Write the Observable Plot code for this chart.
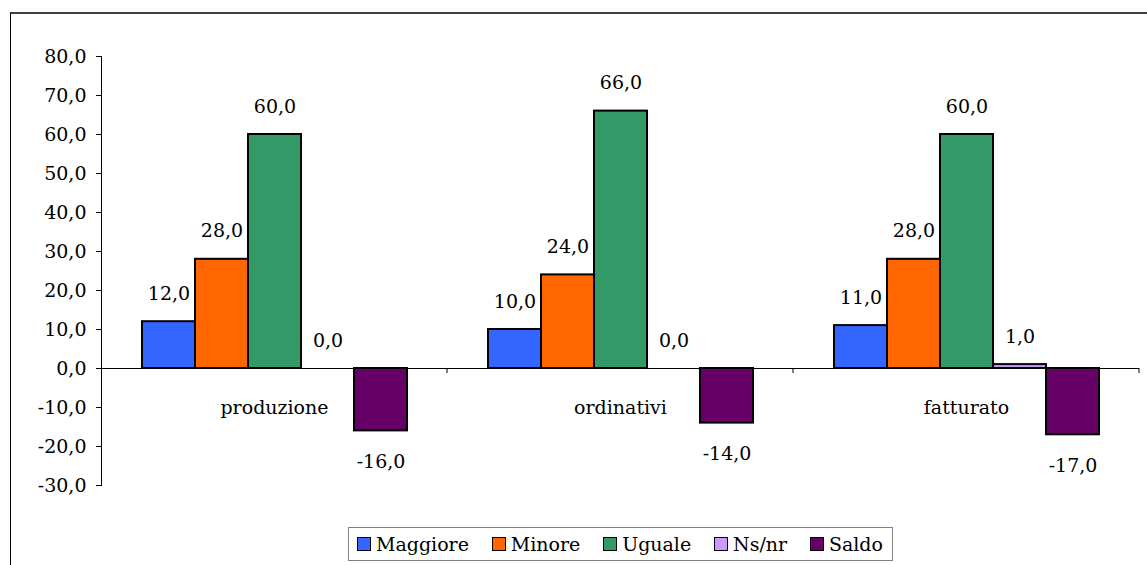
<!DOCTYPE html>
<html>
<head>
<meta charset="utf-8">
<script src="https://cdn.jsdelivr.net/npm/d3@7"></script>
<script src="https://cdn.jsdelivr.net/npm/@observablehq/plot@0.6"></script>
<style>
  html, body { margin: 0; padding: 0; background: #fff; }
  body { width: 1147px; height: 565px; position: relative; overflow: hidden; font-family: "DejaVu Serif", serif; }
  #frame { position: absolute; left: 10px; top: 12px; width: 1200px; height: 600px; border-top: 2px solid #404040; border-left: 1px solid #000; box-sizing: border-box; }
  #chart { position: absolute; left: 0; top: 0; }
  #legend { position: absolute; left: 348px; top: 527px; width: 545px; height: 34px; border: 1px solid #808080; box-sizing: border-box; display: flex; align-items: center; justify-content: space-between; padding: 0 9px 0 8px; font-family: "DejaVu Serif", serif; font-size: 19px; color: #000; background: #fff; }
  .item { display: flex; align-items: center; gap: 5px; }
  .sw { width: 14px; height: 14px; border: 1.5px solid #000; box-sizing: border-box; }
</style>
</head>
<body>
<div id="frame"></div>
<div id="chart"></div>
<div id="legend"></div>
<script>
const categories = ["produzione", "ordinativi", "fatturato"];
const series = ["Maggiore", "Minore", "Uguale", "Ns/nr", "Saldo"];
const colors = ["#3366FF", "#FF6600", "#339966", "#CC99FF", "#660066"];
const maggiore = [12, 10, 11];
const minore = [28, 24, 28];
const uguale = [60, 66, 60];
const nsnr = [0, 0, 1];
const saldo = [-16, -14, -17];
const yTicks = [-30, -20, -10, 0, 10, 20, 30, 40, 50, 60, 70, 80];

const valuesBySeries = [maggiore, minore, uguale, nsnr, saldo];
const rows = [];
categories.forEach((c, i) => {
  series.forEach((s, j) => rows.push({cat: c, series: s, value: valuesBySeries[j][i]}));
});
const fmt = v => d3.format(".1f")(v).replace("\u2212", "-").replace(".", ",");

const chart = Plot.plot({
  width: 1147,
  height: 520,
  marginLeft: 100,
  marginRight: 8,
  marginTop: 56,
  marginBottom: 35,
  style: {fontFamily: "DejaVu Serif, serif", fontSize: "19px", color: "#000", background: "transparent"},
  fx: {domain: categories, paddingInner: 0, paddingOuter: 0, axis: null},
  x: {domain: series, paddingInner: 0, paddingOuter: 0.75, axis: null},
  y: {domain: [-30, 80], ticks: yTicks, tickFormat: fmt, tickSize: 5, tickPadding: 10, line: true, label: null},
  color: {domain: series, range: colors},
  marks: [
    Plot.barY(rows, {fx: "cat", x: "series", y: "value", fill: "series", stroke: "#000", strokeWidth: 2, inset: 0}),
    Plot.ruleY([0], {stroke: "#000", strokeWidth: 1}),
    Plot.text(rows.filter(d => d.value >= 0), {fx: "cat", x: "series", y: "value", text: d => fmt(d.value), dy: -28, lineAnchor: "middle", fill: "#000"}),
    Plot.text(rows.filter(d => d.value < 0), {fx: "cat", x: "series", y: "value", text: d => fmt(d.value), dy: 31, lineAnchor: "middle", fill: "#000"}),
    Plot.text(categories, {fx: d => d, y: -10, text: d => d, frameAnchor: "middle", lineAnchor: "middle", fill: "#000"})
  ]
});
document.getElementById("chart").appendChild(chart);

// boundary ticks on the zero line, positioned through Plot's scales
try {
  const fxs = chart.scale("fx");
  const ys = chart.scale("y");
  const y0 = ys.apply(0);
  const svg = d3.select(chart);
  categories.forEach(c => {
    const xr = fxs.apply(c) + fxs.bandwidth;
    svg.append("line").attr("x1", xr).attr("x2", xr).attr("y1", y0).attr("y2", y0 + 5)
      .attr("stroke", "#000").attr("stroke-width", 1);
  });
} catch (e) {}

const legend = document.getElementById("legend");
series.forEach((s, i) => {
  const it = document.createElement("div");
  it.className = "item";
  const sw = document.createElement("div");
  sw.className = "sw";
  sw.style.background = colors[i];
  const t = document.createElement("span");
  t.textContent = s;
  it.appendChild(sw);
  it.appendChild(t);
  legend.appendChild(it);
});
</script>
</body>
</html>
